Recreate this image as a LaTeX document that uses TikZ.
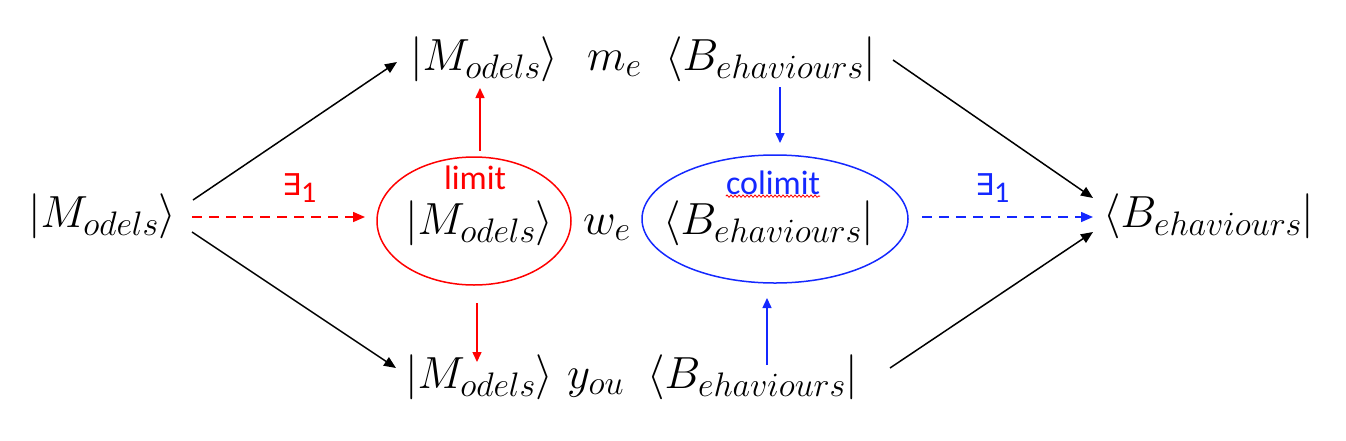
\RequirePackage{fix-cm}
\documentclass[tikz,border=0pt]{standalone}
\usepackage{fontspec}
\usetikzlibrary{arrows.meta,shapes.geometric,decorations.pathmorphing}
\newfontfamily\calib{Carlito}
\newfontfamily\djv{DejaVu Sans}
\DeclareMathSizes{45}{45}{34}{26}
\definecolor{myred}{RGB}{255,0,0}
\definecolor{myblue}{RGB}{20,40,255}
\tikzset{
  mtext/.style={anchor=base west, inner sep=0pt, font=\fontsize{45}{50}\selectfont},
  lbl/.style={inner sep=0pt, font=\calib\fontsize{34}{40}\selectfont},
  arr/.style={line width=1.5pt, -{Triangle[length=12pt,width=10pt]}},
  varr/.style={line width=1.5pt, -{Triangle[length=10pt,width=9pt]}},
  dasharr/.style={line width=1.5pt, dash pattern=on 10pt off 7pt, -{Triangle[length=12pt,width=10pt]}},
  ell/.style={ellipse, line width=1.5pt, inner sep=0pt},
}
\newcommand{\exone}{{\djv\fontsize{30}{34}\selectfont ∃}{\calib\fontsize{30}{34}\selectfont\raisebox{-7pt}{1}}}
\begin{document}
\begin{tikzpicture}[x=1pt,y=-1pt]
\useasboundingbox (0,0) rectangle (1346,440);
% ellipses
\node[ell, draw=myred, minimum width=194pt, minimum height=128pt] (E1) at (474,221) {};
\node[ell, draw=myblue, minimum width=266pt, minimum height=128pt] (E2) at (775,219) {};
% texts
\node[mtext] (L) at (28,227) {$|M_{odels}\rangle$};
\node[mtext] (R) at (1103,227) {$\langle B_{ehaviours}|$};
\node[mtext] (TM) at (410,70) {$|M_{odels}\rangle$};
\node[mtext] (TW) at (587,70) {$m_e$};
\node[mtext] (TB) at (665,70) {$\langle B_{ehaviours}|$};
\node[mtext] (MM) at (405,234) {$|M_{odels}\rangle$};
\node[mtext] (MW) at (583,234) {$w_e$};
\node[mtext] (MB) at (663,234) {$\langle B_{ehaviours}|$};
\node[mtext] (BM) at (405,388) {$|M_{odels}\rangle$};
\node[mtext] (BW) at (567,388) {$y_{ou}$};
\node[mtext] (BB) at (647,388) {$\langle B_{ehaviours}|$};
% labels
\node[lbl, text=myred] (lim) at (475,178) {limit};
\node[lbl, text=myblue] (colim) at (773,183) {colimit};
\draw[myred, line width=0.8pt, decorate, decoration={snake, amplitude=1.2pt, segment length=4pt}] (colim.south west) ++(0,1) -- ([yshift=-1pt]colim.south east);
\node[anchor=base west, inner sep=0pt, text=myred] (ex1) at (282,195) {\exone};
\node[anchor=base west, inner sep=0pt, text=myblue] (ex2) at (975,195) {\exone};
% connector end points
\coordinate (Ltop) at (193,200);
\coordinate (Lbot) at (192,232);
\coordinate (Lmid) at (192,217);
\coordinate (TMin) at (397,62);
\coordinate (BMin) at (396,368);
\coordinate (E1in) at (365,217);
\coordinate (TBout) at (893,60);
\coordinate (BBout) at (890,368);
\coordinate (E2out) at (922,217);
\coordinate (Rtop) at (1093,198);
\coordinate (Rbot) at (1093,232);
\coordinate (Rmid) at (1093,217);
\coordinate (TMb) at (480,88);
\coordinate (E1t) at (480,151);
\coordinate (E1b) at (477,303);
\coordinate (BMt) at (477,362);
\coordinate (TBb) at (780,87);
\coordinate (E2t) at (780,143);
\coordinate (BBt) at (767,365);
\coordinate (E2b) at (767,298);
% connectors
\draw[arr] (Ltop) -- (TMin);
\draw[arr] (Lbot) -- (BMin);
\draw[arr] (TBout) -- (Rtop);
\draw[arr] (BBout) -- (Rbot);
\draw[dasharr, myred] (Lmid) -- (E1in);
\draw[dasharr, myblue] (E2out) -- (Rmid);
\draw[varr, myred] (E1t) -- (TMb);
\draw[varr, myred] (E1b) -- (BMt);
\draw[varr, myblue] (TBb) -- (E2t);
\draw[varr, myblue] (BBt) -- (E2b);
\end{tikzpicture}
\end{document}
